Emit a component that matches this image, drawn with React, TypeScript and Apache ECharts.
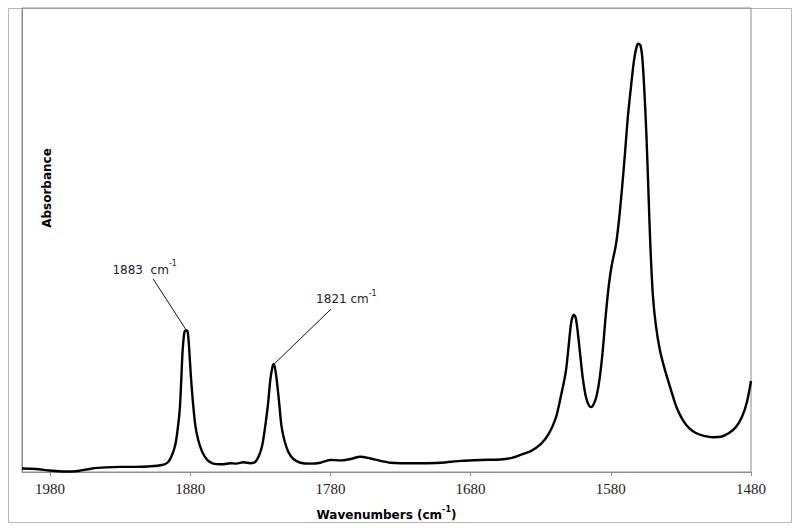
import React, { useEffect, useRef } from "react";
import * as echarts from "echarts";

const wavenumbers: number[] = [
  2000, 1990, 1980, 1970, 1960, 1950, 1940, 1930, 1920, 1910, 1900, 1895.7, 1892.9, 1890.7, 1889.3,
  1887.5, 1886.4, 1885.4, 1884.1, 1882.9, 1881.8, 1880.7, 1879.6, 1878.2, 1876.4, 1874.3, 1871.4,
  1867.9, 1863.6, 1857.1, 1851.4, 1847.1, 1842.1, 1837.1, 1833.6, 1830.7, 1828.6, 1826.4, 1824.6,
  1822.9, 1821.4, 1820.4, 1819.3, 1817.9, 1816.4, 1815, 1812.9, 1810, 1806.4, 1801.4, 1794.3, 1787.1,
  1780, 1772.9, 1765.7, 1758.6, 1751.4, 1744.3, 1737.1, 1730, 1715.7, 1701.4, 1687.1, 1672.9, 1658.6,
  1651.4, 1644.3, 1637.1, 1630, 1624.3, 1619.3, 1615.7, 1612.1, 1610, 1608.2, 1606.4, 1605, 1603.6,
  1601.8, 1600, 1597.9, 1595.7, 1593.9, 1592.1, 1590, 1587.9, 1585.7, 1583.6, 1581.4, 1579.3, 1576.4,
  1574.3, 1572.1, 1570, 1567.9, 1565.7, 1563.6, 1561.8, 1560.4, 1558.9, 1557.5, 1556.1, 1554.6,
  1553.2, 1551.8, 1550, 1547.9, 1545, 1541.4, 1537.1, 1532.9, 1528.6, 1524.3, 1519.3, 1513.6, 1507.1,
  1501.4, 1495.7, 1490.7, 1486.4, 1482.9, 1480,
];

const absorbance: number[] = [
  0.0075, 0.0065, 0.0032, 0.0011, 0.0022, 0.0075, 0.010, 0.011, 0.011, 0.012, 0.015, 0.0216, 0.037,
  0.058, 0.084, 0.134, 0.198, 0.263, 0.302, 0.305, 0.302, 0.263, 0.209, 0.155, 0.101, 0.069, 0.043,
  0.026, 0.018, 0.0166, 0.019, 0.018, 0.021, 0.019, 0.0216, 0.037, 0.058, 0.101, 0.144, 0.198, 0.226,
  0.233, 0.220, 0.188, 0.144, 0.101, 0.069, 0.043, 0.028, 0.020, 0.018, 0.020, 0.026, 0.025, 0.028,
  0.033, 0.029, 0.024, 0.020, 0.019, 0.019, 0.020, 0.024, 0.026, 0.027, 0.030, 0.037, 0.045, 0.060,
  0.082, 0.116, 0.162, 0.216, 0.274, 0.323, 0.339, 0.332, 0.302, 0.252, 0.203, 0.164, 0.144, 0.140,
  0.147, 0.166, 0.203, 0.263, 0.338, 0.403, 0.446, 0.489, 0.539, 0.608, 0.683, 0.763, 0.828, 0.884,
  0.914, 0.923, 0.920, 0.892, 0.823, 0.726, 0.608, 0.489, 0.381, 0.317, 0.263, 0.220, 0.177, 0.138,
  0.112, 0.095, 0.084, 0.078, 0.075, 0.076, 0.084, 0.097, 0.119, 0.151, 0.196,
];

const peakLabels: string[] = ["1883  cm", "1821 cm"];
const supText = "-1";
const labelAnchors: number[][] = [
  [1912.5, 0.44],
  [1768.6, 0.377],
];
const leaderLines: number[][][] = [
  [
    [1906.4, 0.416],
    [1882.9, 0.306],
  ],
  [
    [1779.6, 0.351],
    [1820.0, 0.233],
  ],
];

const xMin = 1480;
const xMax = 2000;
const xInterval = 100;
const xTitleMain = "Wavenumbers (cm";
const xTitleEnd = ")";
const yTitle = "Absorbance";

export default function App() {
  const ref = useRef<HTMLDivElement>(null);

  useEffect(() => {
    if (!ref.current) return;
    const chart = echarts.init(ref.current, undefined, { renderer: "svg" });
    const data = wavenumbers.map((w, i) => [w, absorbance[i]]);
    const sans = "DejaVu Sans, Verdana, sans-serif";
    const serif = "serif";

    const annRich = {
      n: { fontFamily: sans, fontSize: 12, color: "#222", lineHeight: 16, verticalAlign: "bottom" },
      s: { fontFamily: sans, fontSize: 8, color: "#222", lineHeight: 16, verticalAlign: "top" },
    };

    chart.setOption({
      animation: false,
      backgroundColor: "#ffffff",
      grid: {
        left: 22,
        right: 49,
        top: 8,
        bottom: 59,
        show: true,
        borderColor: "#8c8c8c",
        borderWidth: 1,
        backgroundColor: "transparent",
      },
      xAxis: {
        type: "value",
        inverse: true,
        min: xMin,
        max: xMax,
        interval: xInterval,
        axisLine: { show: true, lineStyle: { color: "#8c8c8c", width: 1 } },
        axisTick: { show: true, length: 4, lineStyle: { color: "#8c8c8c" } },
        axisLabel: {
          showMaxLabel: false,
          margin: 9,
          fontFamily: serif,
          fontSize: 15,
          color: "#222",
          formatter: (v: number) => String(v),
        },
        splitLine: { show: false },
      },
      yAxis: {
        type: "value",
        min: 0,
        max: 1,
        axisLine: { show: true, lineStyle: { color: "#8c8c8c", width: 1 } },
        axisTick: { show: false },
        axisLabel: { show: false },
        splitLine: { show: false },
      },
      series: [
        {
          type: "line",
          data,
          smooth: 0.3,
          showSymbol: false,
          symbol: "none",
          lineStyle: { color: "#000", width: 2.4 },
          markLine: {
            silent: true,
            symbol: ["none", "none"],
            label: { show: false },
            lineStyle: { color: "#111", width: 1, type: "solid" },
            data: leaderLines.map((l) => [{ coord: l[0] }, { coord: l[1] }]),
          },
          markPoint: {
            silent: true,
            symbol: "circle",
            symbolSize: 1,
            itemStyle: { color: "rgba(0,0,0,0)" },
            label: {
              show: true,
              position: "inside",
              rich: annRich,
            },
            data: labelAnchors.map((c, i) => ({
              coord: c,
              label: { formatter: "{n|" + peakLabels[i] + "}{s|" + supText + "}" },
            })),
          },
        },
      ],
      graphic: [
        {
          type: "rect",
          shape: { x: 8.5, y: 8.5, width: 783, height: 514 },
          style: { fill: "none", stroke: "#b5b5b5", lineWidth: 1 },
          silent: true,
          z: -1,
        },
        {
          type: "text",
          x: 386.5,
          y: 513,
          style: {
            text: "{b|" + xTitleMain + "}{s|" + supText + "}{b|" + xTitleEnd + "}",
            rich: {
              b: { fontFamily: sans, fontWeight: "bold", fontSize: 12, fill: "#000", lineHeight: 16, verticalAlign: "bottom" },
              s: { fontFamily: sans, fontWeight: "bold", fontSize: 8, fill: "#000", lineHeight: 16, verticalAlign: "top" },
            },
            textAlign: "center",
            textVerticalAlign: "middle",
          },
        },
        {
          type: "text",
          x: 47,
          y: 188,
          rotation: Math.PI / 2,
          style: {
            text: yTitle,
            fontFamily: sans,
            fontWeight: "bold",
            fontSize: 12,
            fill: "#000",
            textAlign: "center",
            textVerticalAlign: "middle",
          },
        },
      ],
    });

    return () => chart.dispose();
  }, []);

  return (
    <div
      ref={ref}
      style={{ position: "fixed", left: 0, top: 0, width: 800, height: 531, background: "#fff" }}
    />
  );
}
